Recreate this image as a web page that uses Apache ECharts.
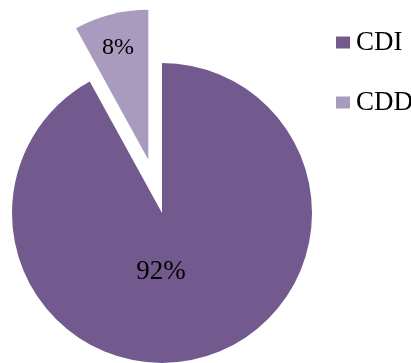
<!DOCTYPE html>
<html>
<head>
<meta charset="utf-8">
<script src="https://cdn.jsdelivr.net/npm/echarts@6/dist/echarts.min.js"></script>
<style>
  html, body { margin: 0; padding: 0; background: #ffffff; }
  #chart { width: 411px; height: 363px; }
</style>
</head>
<body>
<div id="chart"></div>
<script>
// Share of CDI vs CDD
const categories = ['CDI', 'CDD'];
const shares = [92, 8];
const colors = ['#725a8e', '#a99bbe'];

// Where each percentage label sits, and its size
const labelSpots = [[161, 272], [118, 48]];
const labelSizes = [27, 24];

// Pie geometry; the CDD slice is pulled out along its bisector
const pieCenter = [162, 213];
const pieRadius = 150;
const pullOut = 55;
const pulledIndex = 1;

const total = shares.reduce((a, b) => a + b, 0);
let startFrac = 0;
for (let i = 0; i < pulledIndex; i++) startFrac += shares[i] / total;
const midFrac = startFrac + shares[pulledIndex] / total / 2;
// angle measured clockwise from 12 o'clock
const midAngle = midFrac * 2 * Math.PI;
const pulledCenter = [
  pieCenter[0] + Math.sin(midAngle) * pullOut,
  pieCenter[1] - Math.cos(midAngle) * pullOut
];

function sliceSeries(center, visibleIndex) {
  return {
    type: 'pie',
    center: center,
    radius: [0, pieRadius],
    startAngle: 90,
    clockwise: true,
    avoidLabelOverlap: false,
    silent: true,
    label: {
      show: true,
      position: 'inside',
      formatter: '{c}%',
      fontFamily: 'Liberation Serif',
      color: '#000000'
    },
    labelLine: { show: false },
    labelLayout: function (p) {
      const s = labelSpots[p.dataIndex];
      return { x: s[0], y: s[1], align: 'center', verticalAlign: 'middle' };
    },
    data: categories.map((name, i) => ({
      name: name,
      value: shares[i],
      itemStyle: { color: visibleIndex(i) ? colors[i] : 'rgba(0,0,0,0)' },
      label: { show: visibleIndex(i), fontSize: labelSizes[i] }
    }))
  };
}

const chart = echarts.init(document.getElementById('chart'), null, { renderer: 'canvas' });

chart.setOption({
  animation: false,
  backgroundColor: '#ffffff',
  legend: {
    orient: 'vertical',
    left: 331,
    top: 24,
    itemWidth: 14,
    itemHeight: 12,
    itemGap: 33,
    icon: 'rect',
    selectedMode: false,
    textStyle: { fontFamily: 'Liberation Serif', fontSize: 27, color: '#000000', padding: [0, 0, 0, 1] },
    data: categories.map((name, i) => ({ name: name, itemStyle: { color: colors[i], opacity: 1 } }))
  },
  series: [
    sliceSeries(pieCenter, i => i !== pulledIndex),
    sliceSeries(pulledCenter, i => i === pulledIndex)
  ]
});
</script>
</body>
</html>
